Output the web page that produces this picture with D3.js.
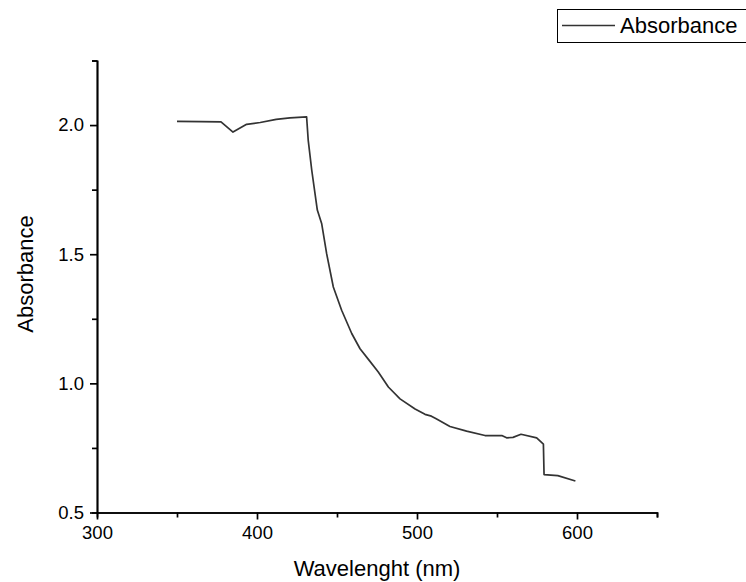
<html>
<style>
    body { margin: 0; background: #fff; }
    svg text { font-family: Arial, "Liberation Sans", sans-serif; fill: #000; }
    .axis path, .axis line { fill: none; stroke: #000; stroke-width: 1.7; }
</style>
<body>
<script src="https://d3js.org/d3.v7.min.js"></script>
<script>
// data
const wavelength = [350, 365, 377.5, 385, 393.5, 402, 412, 420.6, 431, 432, 434.2, 437.7, 440.4, 443.5,
    447.7, 452.9, 459.2, 464.4, 470, 475.8, 482.1, 489.4, 498.8, 505, 509, 512, 520.6, 531, 542.5,
    553, 556, 560, 565, 574.8, 579, 579.4, 588, 599]
const absorbance = [2.014, 2.013, 2.012, 1.973, 2.003, 2.010, 2.022, 2.028, 2.032, 1.942, 1.826, 1.671,
    1.619, 1.503, 1.373, 1.283, 1.193, 1.134, 1.09, 1.044, 0.986, 0.940, 0.901, 0.88, 0.873, 0.863,
    0.833, 0.815, 0.798, 0.798, 0.789, 0.791, 0.803, 0.789, 0.765, 0.647, 0.643, 0.622]
const xMajor = [300, 400, 500, 600]
const xMinor = [350, 450, 550, 650]
const yMajor = [0.5, 1.0, 1.5, 2.0]
const yMinor = [0.75, 1.25, 1.75, 2.25]
const seriesName = "Absorbance"

const W = 746, H = 582
const margin = {top: 60.5, right: 89, bottom: 69.5, left: 97}

const svg = d3.select("body").append("svg")
    .attr("width", W)
    .attr("height", H)

const x = d3.scaleLinear().domain([300, 650]).range([margin.left, W - margin.right])
const y = d3.scaleLinear().domain([0.5, 2.25]).range([H - margin.bottom, margin.top])

// minor ticks first, then majors with labels
svg.append("g").attr("class", "axis")
    .attr("transform", `translate(0,${y(0.5)})`)
    .call(d3.axisBottom(x).tickValues(xMinor).tickSize(5).tickFormat(""))
svg.append("g").attr("class", "axis")
    .attr("transform", `translate(0,${y(0.5)})`)
    .call(d3.axisBottom(x).tickValues(xMajor).tickSize(7).tickSizeOuter(0).tickPadding(6).tickFormat(d3.format("d")))
    .call(g => g.selectAll("text").attr("font-size", 18.5))

svg.append("g").attr("class", "axis")
    .attr("transform", `translate(${x(300)},0)`)
    .call(d3.axisLeft(y).tickValues(yMinor).tickSize(5).tickFormat(""))
svg.append("g").attr("class", "axis")
    .attr("transform", `translate(${x(300)},0)`)
    .call(d3.axisLeft(y).tickValues(yMajor).tickSize(7).tickSizeOuter(0).tickPadding(6).tickFormat(d3.format(".1f")))
    .call(g => g.selectAll("text").attr("font-size", 18.5))

// axis titles
svg.append("text")
    .attr("x", (x(300) + x(650)) / 2)
    .attr("y", 576)
    .attr("text-anchor", "middle")
    .attr("font-size", 22)
    .text("Wavelenght (nm)")

svg.append("text")
    .attr("transform", `translate(33,${274}) rotate(-90)`)
    .attr("text-anchor", "middle")
    .attr("font-size", 22)
    .text("Absorbance")

// the spectrum
const line = d3.line()
    .x((d, i) => x(wavelength[i]))
    .y(d => y(d))

svg.append("path")
    .datum(absorbance)
    .attr("fill", "none")
    .attr("stroke", "#333")
    .attr("stroke-width", 1.7)
    .attr("stroke-linejoin", "round")
    .attr("d", line)

// legend
const legend = svg.append("g")
legend.append("rect")
    .attr("x", 557.5).attr("y", 9.5)
    .attr("width", 200).attr("height", 33)
    .attr("fill", "#fff").attr("stroke", "#000").attr("stroke-width", 1)
legend.append("line")
    .attr("x1", 562).attr("x2", 615)
    .attr("y1", 25.5).attr("y2", 25.5)
    .attr("stroke", "#333").attr("stroke-width", 1.4)
legend.append("text")
    .attr("x", 620).attr("y", 33)
    .attr("font-size", 22)
    .text(seriesName)
</script>
</body>
</html>
